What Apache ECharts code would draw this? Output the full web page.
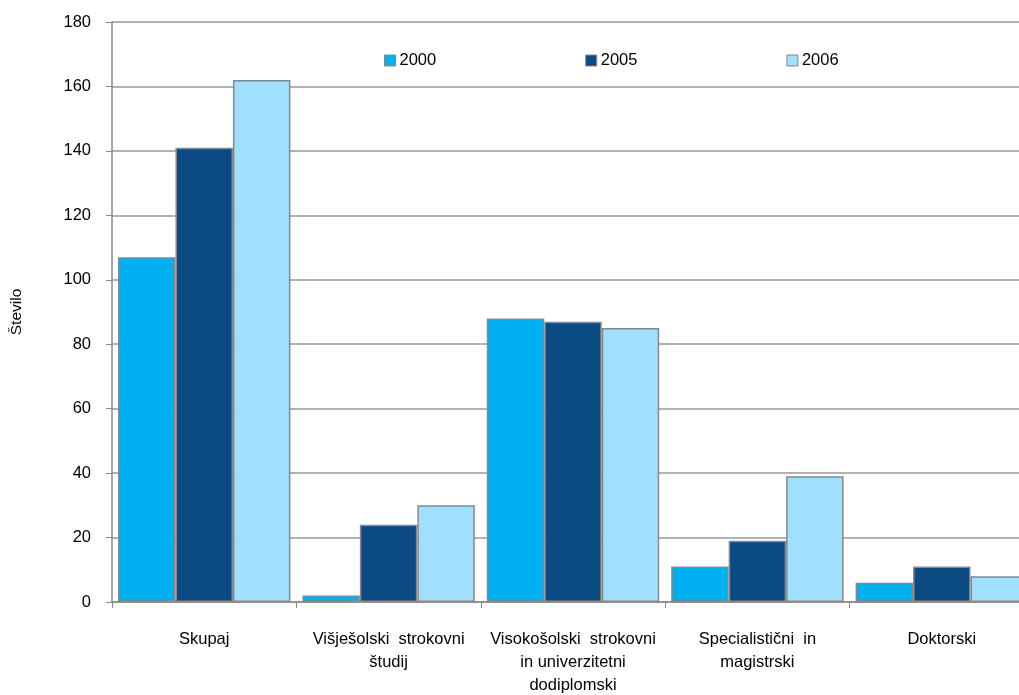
<!DOCTYPE html>
<html><head><meta charset="utf-8">
<script src="https://cdn.jsdelivr.net/npm/echarts@6/dist/echarts.min.js"></script>
<style>html,body{margin:0;padding:0;background:#fff}#c{width:1019px;height:695px}</style>
</head><body><div id="c"></div>
<script>
var categories = ['Skupaj', 'Višješolski  strokovni\nštudij', 'Visokošolski  strokovni\nin univerzitetni\ndodiplomski', 'Specialistični  in\nmagistrski', 'Doktorski'];
var seriesNames = ['2000', '2005', '2006'];
var v2000 = [107, 2, 88, 11, 6];
var v2005 = [141, 24, 87, 19, 11];
var v2006 = [162, 30, 85, 39, 8];
var colors = ['#00B0F0', '#0B4A82', '#A1DFFE'];
var values = [v2000, v2005, v2006];
var font = "'Liberation Sans',Arial,sans-serif";
var chart = echarts.init(document.getElementById('c'));
chart.setOption({
  animation: false,
  textStyle: {fontFamily: font},
  legend: {
    top: 52, left: 384, padding: 0, itemGap: 149, itemWidth: 11, itemHeight: 11,
    icon: 'rect',
    textStyle: {fontSize: 16.5, color: '#000', fontFamily: font, padding: [0, 0, 0, -1]},
    itemStyle: {borderColor: '#888', borderWidth: 1},
    data: seriesNames
  },
  grid: {left: 112, right: -15, top: 22, bottom: 93, containLabel: false, outerBoundsMode: 'none'},
  xAxis: {
    type: 'category', data: categories,
    axisLine: {lineStyle: {color: '#888', width: 1.5}},
    axisTick: {show: true, length: 6, lineStyle: {color: '#888'}},
    axisLabel: {fontSize: 16.5, color: '#000', margin: 26, lineHeight: 23, interval: 0, fontFamily: font}
  },
  yAxis: {
    type: 'value', min: 0, max: 180, interval: 20,
    name: 'Število', nameLocation: 'middle', nameGap: 87, nameRotate: 90,
    nameTextStyle: {fontSize: 15.5, color: '#000', fontFamily: font},
    axisLine: {show: true, lineStyle: {color: '#888', width: 1.5}},
    axisTick: {show: true, length: 6, lineStyle: {color: '#888'}},
    axisLabel: {fontSize: 16.5, color: '#000', margin: 21, fontFamily: font},
    splitLine: {lineStyle: {color: '#999', width: 1.5}}
  },
  series: seriesNames.map(function (n, i) {
    return {
      name: n, type: 'bar', data: values[i],
      barGap: '0%', barCategoryGap: '6.5%',
      itemStyle: {color: colors[i], borderColor: '#888', borderWidth: 1.5}
    };
  })
});
</script></body></html>
